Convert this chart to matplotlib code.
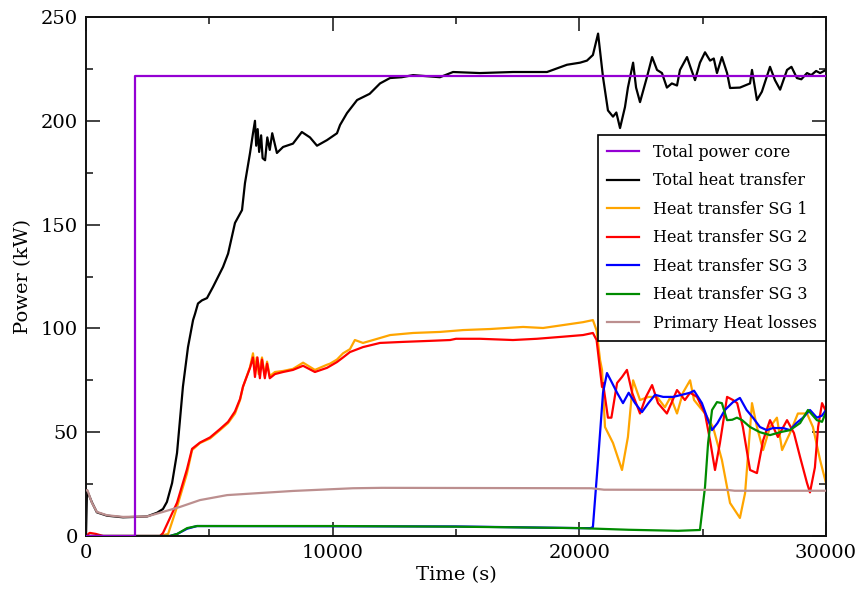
import matplotlib
matplotlib.use("Agg")
import matplotlib.pyplot as plt
from matplotlib.ticker import MultipleLocator

plt.rcParams['font.family'] = ['DejaVu Serif']

# ---- data (time in s, power in kW) ----
core_power = [(0, 0), (2000, 0), (2000, 221.5), (30000, 221.5)]

total_heat = [(0, 0), (40, 22), (240, 16.2), (440, 11.4), (850, 9.8), (1500, 9.0), (2000, 9.2),
              (2470, 9.4), (2880, 11.2), (3120, 13), (3280, 16.4), (3490, 25.5), (3690, 40),
              (3930, 72), (4135, 91), (4340, 104), (4420, 107), (4540, 112), (4700, 113.5),
              (4905, 114.6), (5150, 120), (5555, 129.6), (5760, 136), (6040, 150.8), (6325, 157),
              (6445, 170), (6650, 184.5), (6770, 194), (6850, 200), (6900, 188), (6960, 196),
              (7020, 185), (7100, 193), (7160, 182), (7260, 181), (7350, 192), (7450, 186),
              (7550, 194), (7740, 184.5), (7990, 187.4), (8390, 189), (8750, 194.6), (9080, 192),
              (9365, 188), (9770, 190.7), (10175, 194), (10300, 198), (10580, 203.7), (10990, 210),
              (11500, 213), (11920, 218), (12325, 220.6), (12800, 221), (13260, 222),
              (13800, 221.5), (14350, 221), (14880, 223.5), (15970, 223), (17310, 223.5),
              (18690, 223.5), (19500, 227), (20030, 228), (20310, 229), (20550, 231.7),
              (20760, 242), (20960, 221), (21160, 205), (21365, 202), (21500, 204), (21650, 196.5),
              (21850, 206.6), (21970, 216), (22180, 228), (22300, 216), (22460, 209), (22740, 221),
              (22950, 230.7), (23150, 224.5), (23350, 223), (23550, 216), (23750, 218),
              (23960, 217), (24080, 224.5), (24365, 230.7), (24500, 226), (24690, 219.6),
              (24890, 228), (25095, 233), (25300, 229), (25450, 230), (25580, 223), (25780, 230.7),
              (25990, 223), (26110, 215.8), (26510, 216), (26920, 218), (27000, 224.5),
              (27200, 210), (27400, 214), (27730, 226), (27930, 219.6), (28140, 215),
              (28420, 224.5), (28600, 226), (28820, 220.6), (29000, 220), (29230, 223),
              (29400, 222), (29600, 224), (29760, 223), (30000, 224.5)]

sg1 = [(0, 0), (3000, 0), (3330, 1), (3690, 14), (4090, 30), (4300, 41.4), (4620, 44.8),
       (5030, 47), (5430, 51), (5760, 54.4), (6040, 59), (6245, 65.5), (6365, 71.8),
       (6650, 81.4), (6770, 88), (6850, 80), (6920, 86), (7000, 78), (7135, 86), (7250, 77),
       (7340, 84), (7450, 77), (7660, 79), (7990, 79.5), (8390, 80.5), (8800, 83.5),
       (9280, 80), (9770, 82.5), (9890, 83), (10175, 85), (10420, 88), (10700, 90),
       (10900, 94.4), (11230, 93), (11640, 94.4), (12330, 96.8), (13260, 97.8),
       (14350, 98.3), (15290, 99.2), (16380, 99.7), (17720, 100.7), (18530, 100.2),
       (19340, 101.6), (20150, 103), (20550, 104), (20700, 99), (20840, 84.8), (20920, 80),
       (21040, 52.5), (21365, 44.8), (21730, 31.8), (21970, 47.7), (22180, 75),
       (22460, 65.5), (22800, 67), (23150, 67), (23470, 62), (23700, 67), (23960, 59),
       (24200, 69), (24490, 75), (24650, 65.5), (25095, 59), (25420, 52.5), (25780, 36.6),
       (26110, 15.9), (26510, 8.7), (26720, 20.7), (27000, 64), (27200, 52.5),
       (27450, 41.4), (27730, 52.5), (28010, 57), (28220, 41.4), (28540, 49.6),
       (28860, 59), (29230, 59), (29470, 52.5), (29760, 36.6), (30000, 25.5)]

sg2 = [(0, 0), (150, 1.5), (400, 1), (700, 0), (3000, 0), (3120, 1.4), (3690, 16), (4090, 32),
       (4300, 42), (4620, 45), (5030, 47.5), (5430, 51.5), (5760, 55), (6040, 60),
       (6245, 66), (6365, 72), (6650, 81), (6770, 86), (6850, 76.6), (6950, 86), (7050, 76),
       (7135, 85), (7250, 76), (7340, 83), (7450, 76), (7660, 78), (7990, 79), (8390, 80),
       (8800, 82), (9280, 79), (9770, 81), (10175, 83.8), (10420, 86), (10700, 88.6),
       (11230, 91), (11920, 93), (12850, 93.5), (13950, 94), (14760, 94.4), (15000, 95),
       (15970, 95), (17310, 94.4), (18280, 95), (19340, 96), (20150, 96.8), (20550, 97.8),
       (20700, 94.4), (20920, 71.8), (20960, 73.7), (21160, 57), (21300, 57), (21530, 73.7),
       (21730, 76.6), (21930, 80), (22140, 69), (22460, 59), (22700, 67), (22950, 72.7),
       (23190, 64), (23550, 59), (23960, 70.3), (24280, 65.5), (24490, 69), (24770, 67),
       (25095, 59), (25300, 46), (25500, 31.8), (25700, 44.8), (25990, 67), (26230, 65.5),
       (26400, 64), (26630, 52.5), (26920, 31.8), (27200, 30.3), (27450, 46), (27730, 55.8),
       (28050, 47.7), (28420, 55.8), (28700, 49.6), (28950, 38), (29230, 25.5), (29350, 21),
       (29550, 33), (29680, 52.5), (29840, 64), (30000, 60)]

sg3 = [(0, 0), (3400, 0), (3700, 1), (4100, 3.5), (4500, 4.8), (15000, 4.6), (20000, 3.8),
       (20450, 3.8), (20550, 4.3), (20760, 36.6), (20960, 69), (21120, 78.5), (21330, 73.7),
       (21530, 69), (21770, 64), (22000, 69), (22260, 64), (22540, 59.7), (22800, 64),
       (23070, 68), (23400, 67), (23800, 67), (24150, 68), (24490, 69), (24650, 70),
       (24970, 64), (25220, 55.8), (25380, 51), (25600, 54.4), (25900, 60.7), (26230, 64.5),
       (26510, 66.5), (26780, 60.7), (27040, 57), (27320, 52.5), (27600, 51), (27850, 52),
       (28260, 52), (28540, 51), (28800, 54.4), (29070, 57), (29350, 60.7), (29630, 57),
       (29840, 58), (30000, 60.7)]

sg3b = [(0, 0), (3400, 0), (3700, 1), (4100, 3.8), (4500, 4.8), (10000, 4.8), (15000, 4.5),
        (20000, 3.8), (22000, 3), (24000, 2.5), (24890, 2.9), (25095, 23.6), (25220, 44.8),
        (25380, 60.7), (25580, 64.5), (25780, 64), (25990, 55.8), (26200, 56), (26390, 57),
        (26600, 55.8), (26920, 52.5), (27320, 50), (27730, 48.6), (28140, 50), (28540, 51),
        (28950, 54.4), (29270, 60.7), (29630, 55.8), (29840, 55), (30000, 59.7)]

losses = [(0, 22), (60, 22), (240, 16), (440, 11.6), (850, 10), (1500, 9.2), (2470, 9.4),
          (3120, 11.6), (3810, 14), (4620, 17.3), (5720, 19.7), (7050, 20.7), (8390, 21.7),
          (10820, 23), (12000, 23.2), (20500, 23), (21000, 22.3), (26000, 22.2), (26300, 21.8),
          (30000, 21.8)]

series = [
    ("Total power core", core_power, "#9400D3", 3.0),
    ("Total heat transfer", total_heat, "#000000", 2.0),
    ("Heat transfer SG 1", sg1, "#FFA500", 2.2),
    ("Heat transfer SG 2", sg2, "#FF0000", 2.3),
    ("Heat transfer SG 3", sg3, "#0000FF", 2.4),
    ("Heat transfer SG 3", sg3b, "#008B00", 2.5),
    ("Primary Heat losses", losses, "#BC8F8F", 2.6),
]

fig = plt.figure(figsize=(8.62, 6.04), dpi=100)
ax = fig.add_axes([86 / 862, 1 - 536 / 604, 740 / 862, 519 / 604])

for label, data, color, z in series:
    t = [p[0] for p in data]
    v = [p[1] for p in data]
    ax.plot(t, v, color=color, lw=1.6, label=label, zorder=z)

ax.set_xlim(0, 30000)
ax.set_ylim(0, 250)
ax.xaxis.set_major_locator(MultipleLocator(10000))
ax.xaxis.set_minor_locator(MultipleLocator(5000))
ax.yaxis.set_major_locator(MultipleLocator(50))
ax.yaxis.set_minor_locator(MultipleLocator(25))
ax.tick_params(which='both', direction='in', top=True, right=True, width=1.2,
               labelsize=14, color='#222222')
ax.tick_params(which='major', length=10, pad=6)
ax.tick_params(which='minor', length=5)
for s in ax.spines.values():
    s.set_linewidth(1.4)
    s.set_color('#111111')

ax.set_xlabel("Time (s)", fontsize=14, labelpad=3)
ax.set_ylabel("Power (kW)", fontsize=14, labelpad=6)

leg = ax.legend(loc='upper right', bbox_to_anchor=(1.0, (536 - 135) / 519),
                borderaxespad=0, fontsize=11.5, frameon=True, fancybox=False,
                edgecolor='black', framealpha=1, handlelength=2.0, handletextpad=0.9,
                labelspacing=0.72, borderpad=0.55)
leg.get_frame().set_linewidth(1.2)

fig.savefig("out.png", dpi=100)
